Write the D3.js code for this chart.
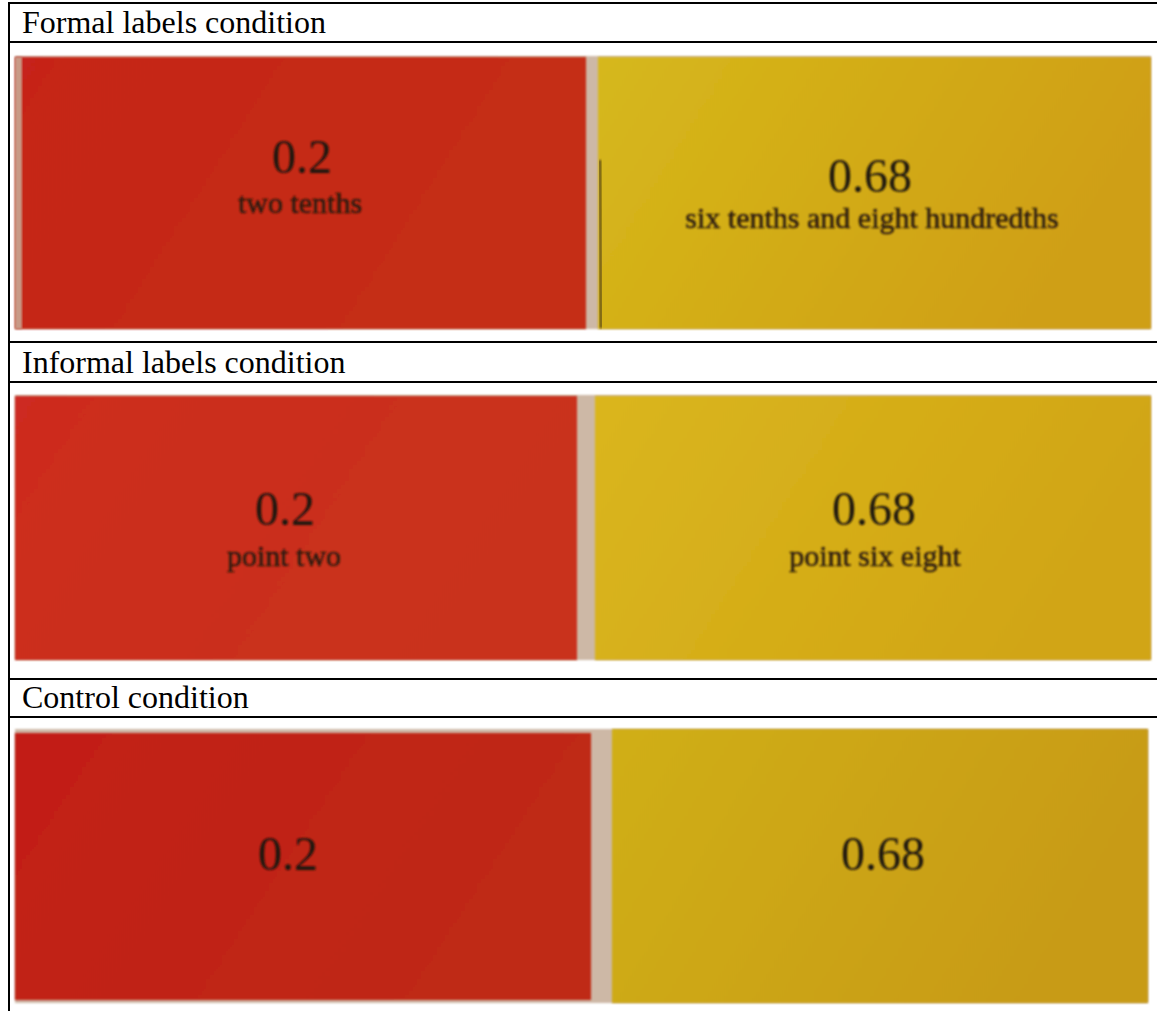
<!DOCTYPE html>
<html>
<head>
<meta charset="utf-8">
<script src="https://cdn.jsdelivr.net/npm/d3@7"></script>
<style>
  html, body { margin: 0; padding: 0; background: #fff; }
  svg { display: block; }
</style>
</head>
<body>
<div id="chart"></div>
<script>
// ---- data ----
const conditions = ["Formal labels condition", "Informal labels condition", "Control condition"];
const cardValues = ["0.2", "0.68"];
const formalLabels = ["two tenths", "six tenths and eight hundredths"];
const informalLabels = ["point two", "point six eight"];
const controlLabels = ["", ""];
const rowLabels = [formalLabels, informalLabels, controlLabels];

// ---- layout ----
const W = 1157, H = 1011;
const svg = d3.select("#chart").append("svg").attr("width", W).attr("height", H);
const defs = svg.append("defs");

const blur = defs.append("filter").attr("id", "blur").attr("x", "-10%").attr("y", "-10%").attr("width", "120%").attr("height", "120%");
blur.append("feGaussianBlur").attr("stdDeviation", 0.9);
const blurS = defs.append("filter").attr("id", "blurS");
blurS.append("feGaussianBlur").attr("stdDeviation", 1.2);

function grad(id, c0, c1) {
  const g = defs.append("linearGradient").attr("id", id).attr("x1", "0").attr("x2", "1").attr("y1", "0").attr("y2", "0.3");
  g.append("stop").attr("offset", "0").attr("stop-color", c0);
  g.append("stop").attr("offset", "1").attr("stop-color", c1);
}
grad("red0", "#c6241a", "#c52f14");
grad("red1", "#cd2c20", "#c9321a");
grad("red2", "#c21e12", "#bf2a14");
grad("yel0", "#d6b81c", "#cf9f12");
grad("yel1", "#dab61e", "#d1a514");
grad("yel2", "#d0af12", "#c89b12");

const serif = "'Liberation Serif', 'Times New Roman', Tinos, serif";

// row geometry (header band + photo band)
const rows = [
  { hTop: 3, hBot: 42, pTop: 56, pBot: 329,
    red: [15, 586, 57, 329], strip: [586, 598], yel: [598, 1151, 57, 329],
    num: [[302, 173], [870, 192]], lab: [[300, 213], [872, 228]] },
  { hTop: 342, hBot: 382, pTop: 395, pBot: 660,
    red: [15, 577, 396, 660], strip: [577, 595], yel: [595, 1151, 396, 660],
    num: [[285, 525], [874, 525]], lab: [[284, 566], [875, 566]] },
  { hTop: 679, hBot: 717, pTop: 729, pBot: 1003,
    red: [15, 591, 733, 1000], strip: [591, 612], yel: [612, 1148, 729, 1003],
    num: [[288, 870], [883, 870]], lab: [[288, 910], [883, 910]] }
];

const rowScale = d3.scaleOrdinal().domain(conditions).range(rows);

// photos
conditions.forEach((c, i) => {
  const r = rowScale(c);
  const g = svg.append("g");
  g.append("rect").attr("x", r.red[0]).attr("y", r.pTop).attr("width", r.yel[1] - r.red[0]).attr("height", r.pBot - r.pTop)
    .attr("fill", "#cdb8a6").attr("filter", "url(#blurS)");
  g.append("rect").attr("x", r.red[0]).attr("y", r.red[2]).attr("width", r.red[1] - r.red[0]).attr("height", r.red[3] - r.red[2])
    .attr("fill", `url(#red${i})`).attr("filter", "url(#blurS)");
  g.append("rect").attr("x", r.yel[0]).attr("y", r.yel[2]).attr("width", r.yel[1] - r.yel[0]).attr("height", r.yel[3] - r.yel[2])
    .attr("fill", `url(#yel${i})`).attr("filter", "url(#blurS)");
  if (i === 0) {
    g.append("rect").attr("x", 15).attr("y", 57).attr("width", 7).attr("height", 272).attr("fill", "#c89a86").attr("filter", "url(#blurS)");
    g.append("line").attr("x1", 22).attr("x2", 560).attr("y1", 318).attr("y2", 318).attr("stroke", "#7a1810").attr("stroke-width", 2).attr("filter", "url(#blurS)");
    g.append("line").attr("x1", 600).attr("x2", 601).attr("y1", 160).attr("y2", 328).attr("stroke", "#4a3a10").attr("stroke-width", 2).attr("filter", "url(#blurS)");
  }
  if (i === 1) {
    g.append("line").attr("x1", 596).attr("x2", 596).attr("y1", 480).attr("y2", 659).attr("stroke", "#5a4410").attr("stroke-width", 2).attr("filter", "url(#blurS)");
  }
  cardValues.forEach((v, k) => {
    g.append("text").attr("x", r.num[k][0]).attr("y", r.num[k][1])
      .attr("text-anchor", "middle").attr("font-family", serif)
      .attr("font-size", 48).attr("fill", "#1e140c").attr("filter", "url(#blur)").text(v);
    const lab = rowLabels[i][k];
    if (lab) {
      g.append("text").attr("x", r.lab[k][0]).attr("y", r.lab[k][1])
        .attr("text-anchor", "middle").attr("font-family", serif)
        .attr("font-size", 30).attr("fill", "#2a1a0c").attr("stroke", "#2a1a0c").attr("stroke-width", 0.5)
        .attr("filter", "url(#blur)").text(lab);
    }
  });
});

// table lines and headers
const tg = svg.append("g");
conditions.forEach((c, i) => {
  const r = rowScale(c);
  tg.append("line").attr("x1", 8).attr("x2", W).attr("y1", r.hTop).attr("y2", r.hTop).attr("stroke", "#000").attr("stroke-width", 2);
  tg.append("line").attr("x1", 8).attr("x2", W).attr("y1", r.hBot).attr("y2", r.hBot).attr("stroke", "#000").attr("stroke-width", 2);
  tg.append("text").attr("x", 22).attr("y", r.hBot - 9)
    .attr("font-family", serif).attr("font-size", 32).attr("fill", "#000").text(c);
});
tg.append("line").attr("x1", 9).attr("x2", 9).attr("y1", 2).attr("y2", H).attr("stroke", "#000").attr("stroke-width", 2);
</script>
</body>
</html>
